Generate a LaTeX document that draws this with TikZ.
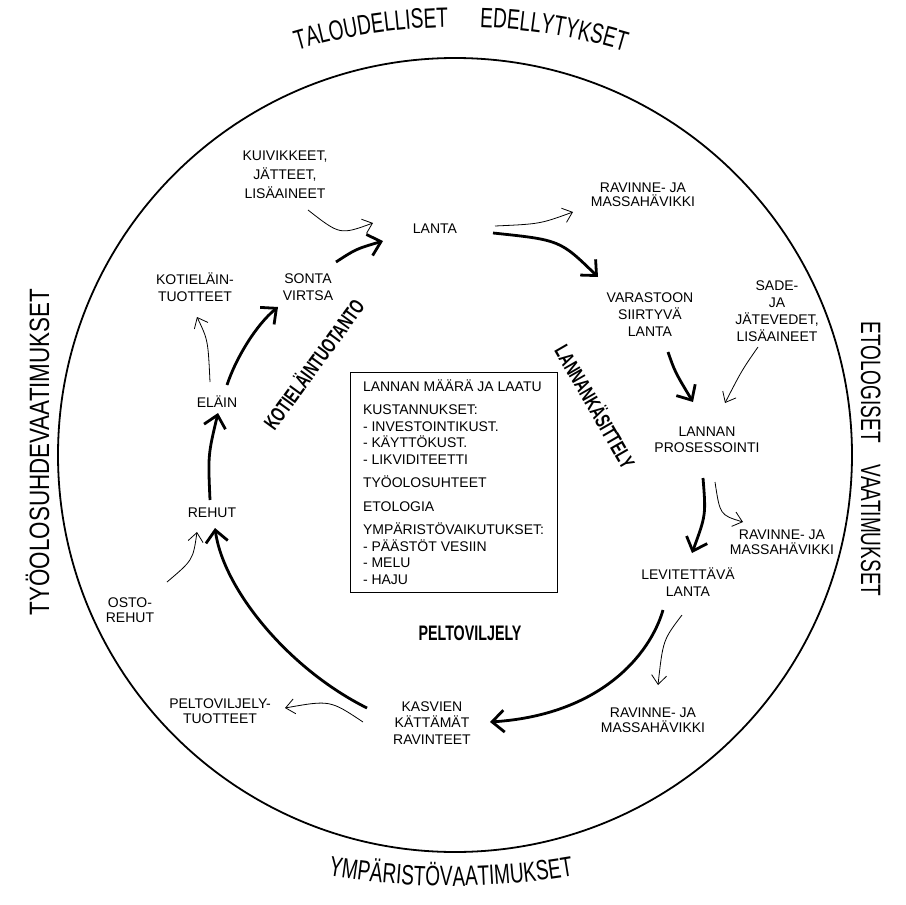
\documentclass[tikz,border=0pt]{standalone}
\usepackage{fontspec}
\setmainfont{Liberation Sans}
\newfontfamily\outerfont[FakeStretch=0.68]{Liberation Sans}
\newfontfamily\outerwide[FakeStretch=0.8]{Liberation Sans}
\newfontfamily\condfont[FakeStretch=0.68]{Liberation Sans}
\usetikzlibrary{arrows.meta,calc,decorations.text}
\begin{document}
\begin{tikzpicture}[x=1pt,y=-1pt,
  lbl/.style={font=\fontsize{14}{16}\selectfont, align=center, inner sep=0pt},
  boldlbl/.style={font=\condfont\bfseries\fontsize{21}{24}\selectfont, inner sep=0pt},
  outerlbl/.style={font=\outerfont\fontsize{28}{30}\selectfont, inner sep=0pt},
  mainarrow/.style={line width=2.8pt, -{Straight Barb[length=12pt,width=22pt]}},
  thinarrow/.style={line width=0.8pt, -{Straight Barb[length=9pt,width=15pt]}},
]
\useasboundingbox (0,0) rectangle (906,905);
\fill[white] (0,0) rectangle (906,905);

% outer circle
\draw[line width=1.8pt] (455,455) circle[radius=397];

% outer curved texts
\path[decorate, decoration={text along path, text align=center,
  text={|\outerfont\fontsize{28}{30}\selectfont|TALOUDELLISET}}]
  ($(459,606)+(-107.5:579)$) arc[start angle=-107.5, end angle=-89.8, radius=579];
\path[decorate, decoration={text along path, text align=center,
  text={|\outerfont\fontsize{28}{30}\selectfont|EDELLYTYKSET}}]
  ($(459,606)+(-89.0:579)$) arc[start angle=-89.0, end angle=-72.3, radius=579];
\path[decorate, decoration={text along path, text align=center,
  text={|\outerfont\fontsize{28}{30}\selectfont|YMPÄRISTÖVAATIMUKSET}}]
  ($(451,159)+(100.8:727)$) arc[start angle=100.8, end angle=79.2, radius=727];

\node[rotate=90, anchor=base, inner sep=0pt, font=\outerwide\fontsize{28}{30}\selectfont] (leftlbl) at (49,452) {TYÖOLOSUHDEVAATIMUKSET};
\node[rotate=-90, anchor=base, outerlbl] (rightlbl) at (861,459) {ETOLOGISET\hspace{22pt}VAATIMUKSET};

% labels
\node[lbl, font=\fontsize{14}{19}\selectfont] (kuiv) at (285,175) {KUIVIKKEET,\\JÄTTEET,\\LISÄAINEET};
\node[lbl] (lanta) at (435,229) {LANTA};
\node[lbl, font=\fontsize{14}{14}\selectfont] (rav1) at (643,195) {RAVINNE- JA\\MASSAHÄVIKKI};
\node[lbl, font=\fontsize{14}{17}\selectfont] (var) at (650,315) {VARASTOON\\SIIRTYVÄ\\LANTA};
\node[lbl, font=\fontsize{14}{17}\selectfont] (sade) at (777,311) {SADE-\\JA\\JÄTEVEDET,\\LISÄAINEET};
\node[lbl] (proc) at (707,440) {LANNAN\\PROSESSOINTI};
\node[lbl, font=\fontsize{14}{15}\selectfont] (rav2) at (782,542) {RAVINNE- JA\\MASSAHÄVIKKI};
\node[lbl, font=\fontsize{14}{17}\selectfont] (lev) at (688,582) {LEVITETTÄVÄ\\LANTA};
\node[lbl, font=\fontsize{14}{15}\selectfont] (rav3) at (653,720) {RAVINNE- JA\\MASSAHÄVIKKI};
\node[lbl, font=\fontsize{14}{16.5}\selectfont] (kasv) at (432,723) {KASVIEN\\KÄTTÄMÄT\\RAVINTEET};
\node[lbl, font=\fontsize{14}{15}\selectfont] (pelt) at (220,711) {PELTOVILJELY-\\TUOTTEET};
\node[lbl, font=\fontsize{14}{15}\selectfont] (osto) at (130,610) {OSTO-\\REHUT};
\node[lbl] (rehut) at (212,513) {REHUT};
\node[lbl] (elain) at (217,402) {ELÄIN};
\node[lbl, font=\fontsize{14}{17}\selectfont] (kotit) at (195,287) {KOTIELÄIN-\\TUOTTEET};
\node[lbl, font=\fontsize{14}{17}\selectfont] (sonta) at (308,287) {SONTA\\VIRTSA};

% bold sector labels
\node[boldlbl] (peltov) at (470,633) {PELTOVILJELY};
\node[boldlbl, rotate=54] (kotituot) at (313,364) {KOTIELÄINTUOTANTO};
\node[boldlbl, rotate=-60] (lannank) at (596,406) {LANNANKÄSITTELY};

% central box
\node[draw, line width=0.9pt, minimum width=207pt, minimum height=220pt, align=left,
  inner sep=0pt, font=\fontsize{14}{16.5}\selectfont] (box) at (453.5,482)
  {LANNAN MÄÄRÄ JA LAATU\\[7pt]
   KUSTANNUKSET:\\
   - INVESTOINTIKUST.\\
   - KÄYTTÖKUST.\\
   - LIKVIDITEETTI\\[7pt]
   TYÖOLOSUHTEET\\[7pt]
   ETOLOGIA\\[7pt]
   YMPÄRISTÖVAIKUTUKSET:\\
   - PÄÄSTÖT VESIIN\\
   - MELU\\
   - HAJU};

% main cycle arrows
\draw[mainarrow] ([shift={(28,-25)}]sonta.center) .. controls (356,249) .. ([shift={(-52,12)}]lanta.center);
\draw[mainarrow] ([shift={(58,4)}]lanta.center) .. controls (560,240) .. ([shift={(-52,-38)}]var.center);
\draw[mainarrow] ([shift={(18,37)}]var.center) .. controls (675,372) .. ([shift={(-14,-38)}]proc.center);
\draw[mainarrow] ([shift={(-4,38)}]proc.center) .. controls (706,515) .. ([shift={(4,-29)}]lev.center);
\draw[mainarrow] ([shift={(-25,28)}]lev.center) .. controls (650,655) and (600,715) .. ([shift={(58,-1)}]kasv.center);
\draw[mainarrow] ([shift={(-65,-15)}]kasv.center) .. controls (287,668) and (223,588) .. ([shift={(3,15)}]rehut.center);
\draw[mainarrow] ([shift={(-2,-13)}]rehut.center) .. controls (208,455) .. ([shift={(1,11)}]elain.center);
\draw[mainarrow] ([shift={(10,-17)}]elain.center) .. controls (236,358) and (256,325) .. ([shift={(-30,20)}]sonta.center);

% side flows
\draw[thinarrow] ([shift={(23,35)}]kuiv.center) .. controls (340,235) .. ([shift={(-62,-6)}]lanta.center);
\draw[thinarrow] ([shift={(60,-3)}]lanta.center) .. controls (540,224) .. ([shift={(-70,17)}]rav1.center);
\draw[thinarrow] ([shift={(-19,36)}]sade.center) .. controls (742,370) .. ([shift={(18,-37)}]proc.center);
\draw[thinarrow] ([shift={(8,42)}]proc.center) .. controls (720,515) .. ([shift={(-39,-20)}]rav2.center);
\draw[thinarrow] ([shift={(-6,33)}]lev.center) .. controls (663,640) .. ([shift={(5,-35)}]rav3.center);
\draw[thinarrow] ([shift={(-69,-1)}]kasv.center) .. controls (330,700) .. ([shift={(65,-3)}]pelt.center);
\draw[thinarrow] ([shift={(37,-28)}]osto.center) .. controls (193,560) .. ([shift={(-15,19)}]rehut.center);
\draw[thinarrow] ([shift={(-7,-20)}]elain.center) .. controls (208,340) .. ([shift={(2,30)}]kotit.center);
\end{tikzpicture}
\end{document}
